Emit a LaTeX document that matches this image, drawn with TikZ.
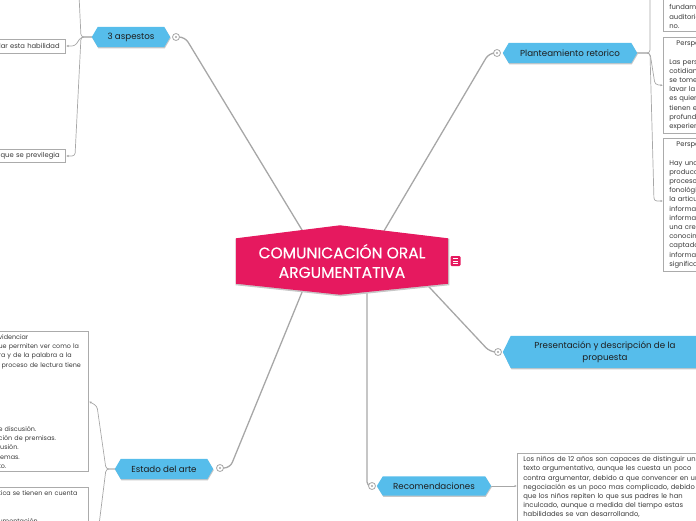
\documentclass[tikz,border=0pt]{standalone}
\usepackage{fontspec}
\setmainfont{Poppins}
\newfontfamily\rootfont{Poppins}[FakeBold=0.3]
\usetikzlibrary{arrows.meta}
\definecolor{pinkc}{HTML}{E6195F}
\definecolor{bluec}{HTML}{56BDEB}
\definecolor{linec}{HTML}{A7A7A7}
\definecolor{boxc}{HTML}{ABABAB}
\definecolor{txtc}{HTML}{3A3A3A}
\definecolor{darkc}{HTML}{1E1E1E}
\pgfdeclarelayer{edges}
\pgfdeclarelayer{shapes}
\pgfsetlayers{edges,shapes,main}
\tikzset{
 rootn/.style={inner sep=0pt, minimum width=212pt, minimum height=45pt, text=white, align=center, font=\rootfont\fontsize{15.5}{19.5}\selectfont},
 bnode/.style={inner sep=0pt, minimum height=20pt, text=darkc, align=center, font=\fontsize{8.7}{11.5}\selectfont},
 knob/.style={circle, draw=linec, line width=0.8pt, fill=white, minimum size=7pt, inner sep=0pt, path picture={\fill[linec] (path picture bounding box.center) circle (1.2pt);}},
 tbox/.style={draw=boxc, line width=0.7pt, fill=white, inner xsep=6pt, inner ysep=3.2pt, text=txtc, align=left, font=\fontsize{6.8}{9.2}\selectfont},
 lbox/.style={tbox, font=\fontsize{6.4}{9.2}\selectfont},
 mainline/.style={draw=linec, line width=1.3pt, rounded corners=6pt},
 subline/.style={draw=linec, line width=0.7pt, rounded corners=3pt},
 tipa/.style={-{Latex[length=2.5pt,width=2.2pt]}},
 menuicon/.style={fill=pinkc, rounded corners=1.2pt, minimum size=10pt, inner sep=0pt,
   path picture={\foreach \dy in {-2.2,0,2.2} \draw[white, line width=0.7pt] ([shift={(-2.6,\dy)}]path picture bounding box.center) -- ++(5.2,0);}},
}
\newcommand\hexfill[3]{%
 \fill[black!22] ([shift={(0.6,1.1)}]#1.west) -- ([shift={(#2+0.6,1.1)}]#1.north west) -- ([shift={(-#2+0.6,1.1)}]#1.north east) -- ([shift={(0.6,1.1)}]#1.east) -- ([shift={(-#2+0.6,1.1)}]#1.south east) -- ([shift={(#2+0.6,1.1)}]#1.south west) -- cycle;
 \fill[#3] (#1.west) -- ([shift={(#2,0)}]#1.north west) -- ([shift={(-#2,0)}]#1.north east) -- (#1.east) -- ([shift={(-#2,0)}]#1.south east) -- ([shift={(#2,0)}]#1.south west) -- cycle;}
\begin{document}
\begin{tikzpicture}[x=1pt,y=-1pt]
\useasboundingbox (0,0) rectangle (696,520);
\clip (0,0) rectangle (696,520);

% central node
\node[rootn] (root) at (342,261) {COMUNICACIÓN ORAL\\ARGUMENTATIVA};
\node[menuicon] (menu) at (455.5,261) {};

% branch nodes
\node[bnode, minimum width=78pt] (asp) at (131,37) {3 aspestos};
\node[bnode, minimum width=134pt] (plan) at (570,53) {Planteamiento retorico};
\node[bnode, minimum width=204pt, minimum height=32pt] (pres) at (605,352) {Presentación y descripción de la\\propuesta};
\node[bnode, minimum width=114pt, minimum height=19pt] (rec) at (434,486) {Recomendaciones};
\node[bnode, minimum width=98pt] (est) at (164,469) {Estado del arte};

% knobs
\node[knob] (kasp) at (176,37) {};
\node[knob] (kplan) at (497,53) {};
\node[knob] (kpres) at (498,352) {};
\node[knob] (krec) at (372,486) {};
\node[knob] (kest) at (220,468) {};

% text boxes
\node[tbox, anchor=east, text width=130pt, align=right, minimum height=14pt] (bhab) at (66,46) {desarrollar esta habilidad};
\node[tbox, anchor=east, text width=130pt, align=right, minimum height=12pt] (bprev) at (66,156) {que se previlegia};

\node[tbox, anchor=south west, text width=70pt] (bp1) at (663,32) {realiza\\fundamentales\\auditorio\\no.};
\node[tbox, anchor=north west, text width=70pt] (bp2) at (663,37) {\hspace*{7pt}Perspectiva\\\mbox{}\\Las personas\\cotidianamente\\se tomen\\lavar la\\es quien\\tienen en\\profundas\\experiencias};
\node[tbox, anchor=north west, text width=70pt] (bp3) at (663,138) {\hspace*{7pt}Perspectiva\\\mbox{}\\Hay una\\producción\\proceso\\fonológico\\la articulación\\información\\información\\una creación\\conocimiento\\captado\\información\\significado};

\node[lbox, anchor=north east, text width=84pt] (bst1) at (89,331) {videnciar\\ue permiten ver como la\\ra y de la palabra a la\\\hspace*{3pt}proceso de lectura tiene\\.\\\mbox{}\\\mbox{}\\\mbox{}\\\mbox{}\\.\\e discusión.\\ción de premisas.\\lusión.\\lemas.\\to.};
\node[lbox, anchor=north east, text width=84pt] (bst2) at (89,487) {tica se tienen en cuenta\\\mbox{}\\\mbox{}\\umentación\\\mbox{}};

\node[tbox, anchor=north west, text width=185pt] (brec) at (517,453) {Los niños de 12 años son capaces de distinguir un\\texto argumentativo, aunque les cuesta un poco\\contra argumentar, debido a que convencer en una\\negociación es un poco mas complicado, debido a\\que los niños repiten lo que sus padres le han\\inculcado, aunque a medida del tiempo estas\\habilidades se van desarrollando,};

% shapes
\begin{pgfonlayer}{shapes}
 \path[fill=black!22, draw=black!22, line width=1.2pt] ([shift={(0.5,1)}]root.north west) -- ([shift={(-1.5,-12)}]root.north) -- ([shift={(0.5,1)}]root.north east) -- ([shift={(0.5,1)}]root.south east) -- ([shift={(-1.5,12)}]root.south) -- ([shift={(0.5,1)}]root.south west) -- cycle;
 \fill[pinkc] (root.north west) -- ([shift={(-2,-13)}]root.north) -- (root.north east) -- (root.south east) -- ([shift={(-2,11)}]root.south) -- (root.south west) -- cycle;
 \hexfill{asp}{6}{bluec}
 \hexfill{plan}{6}{bluec}
 \hexfill{pres}{8}{bluec}
 \hexfill{rec}{6}{bluec}
 \hexfill{est}{6}{bluec}
\end{pgfonlayer}

% connectors
\begin{pgfonlayer}{edges}
 \draw[mainline] (319,258) -- (185,37) -- (kasp.center);
 \draw[mainline] (368,258) -- (489,53) -- (kplan.center);
 \draw[mainline] (402,258) -- (490,352) -- (kpres.center);
 \draw[mainline, rounded corners=4pt] (367,258) -- (367,486) -- (krec.center);
 \draw[mainline] (316,258) -- (230,468) -- (kest.center);

 \draw[subline] (asp.west) -- (81,37) -- (79,-5);
 \draw[subline, tipa] (asp.west) -- (81,37) -- (75,46) -- (bhab.east);
 \draw[subline, tipa] (asp.west) -- (81,37) -- (75,156) -- (bprev.east);

 \draw[subline] (plan.east) -- (650,53) -- (650,-5);
 \draw[subline, tipa] (plan.east) -- (650,53) -- (655,84.5) -- (bp2.west);
 \draw[subline, tipa] (plan.east) -- (650,53) -- (654,201) -- (bp3.west |- 0,201);

 \draw[subline, tipa] (est.west) -- (106,469) -- (97,406) -- (bst1.east);
 \draw[subline] (est.west) -- (106,469) -- (99,525);

 \draw[subline, tipa] (rec.east) -- (rec.east -| brec.west);
\end{pgfonlayer}
\end{tikzpicture}
\end{document}
